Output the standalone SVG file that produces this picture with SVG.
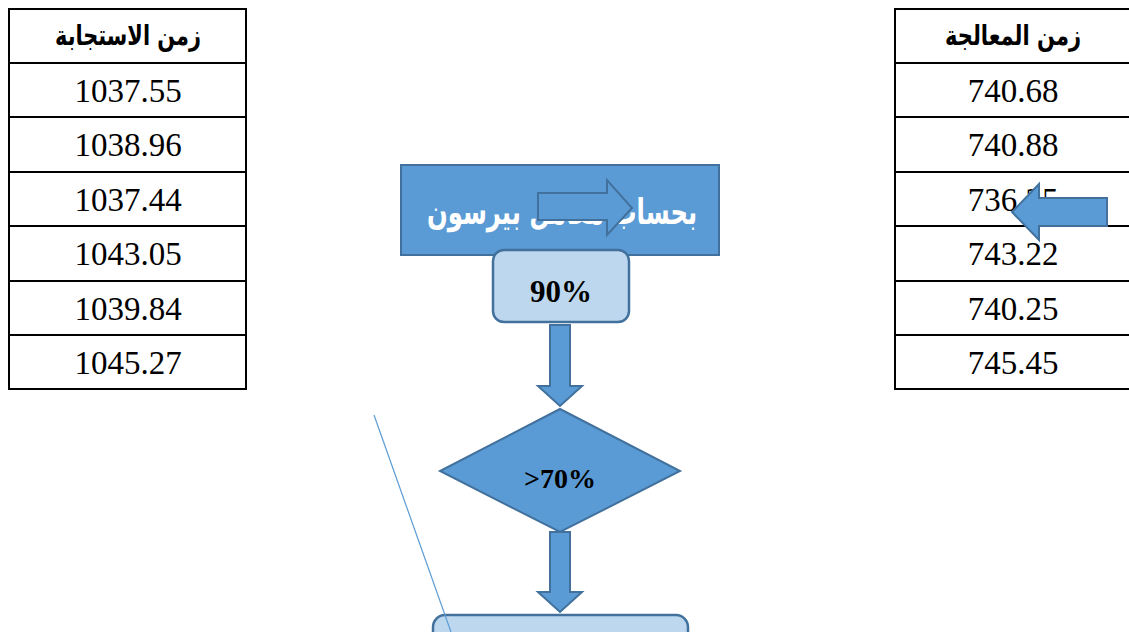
<svg xmlns="http://www.w3.org/2000/svg" width="1129" height="632" viewBox="0 0 1129 632">
<style>
.grid{stroke:#000;stroke-width:2;fill:none}
.num{font-family:"Liberation Serif","Times New Roman",serif;font-size:33px;fill:#000;text-anchor:middle}
.hdr{font-family:"DejaVu Sans","Noto Sans",sans-serif;font-weight:bold;font-size:28px;fill:#000;text-anchor:middle}
.dark{fill:#5B9BD5;stroke:#41719C;stroke-width:2}
.light{fill:#BDD7EE;stroke:#41719C;stroke-width:2.5}
.lbl{font-family:"Liberation Serif","Times New Roman",serif;font-weight:bold;fill:#000;text-anchor:middle}
</style>
<rect width="1129" height="632" fill="#fff"/>
<g id="table-left">
<rect class="grid" x="9" y="9" width="237" height="380"/>
<path class="grid" d="M9 63H246M9 117H246M9 172H246M9 226H246M9 281H246M9 335H246"/>
<text class="hdr" x="128" y="45" textLength="146" lengthAdjust="spacingAndGlyphs">زمن الاستجابة</text>
<text class="num" x="128" y="102">1037.55</text>
<text class="num" x="128" y="156">1038.96</text>
<text class="num" x="128" y="211">1037.44</text>
<text class="num" x="128" y="265">1043.05</text>
<text class="num" x="128" y="320">1039.84</text>
<text class="num" x="128" y="374">1045.27</text>
</g>
<g id="table-right">
<path class="grid" d="M1135 9H895V389H1135"/>
<path class="grid" d="M895 63H1135M895 117H1135M895 172H1135M895 226H1135M895 281H1135M895 335H1135"/>
<text class="hdr" x="1013" y="45" textLength="136" lengthAdjust="spacingAndGlyphs">زمن المعالجة</text>
<text class="num" x="1013" y="102">740.68</text>
<text class="num" x="1013" y="156">740.88</text>
<text class="num" x="1013" y="211">736.25</text>
<text class="num" x="1013" y="265">743.22</text>
<text class="num" x="1013" y="320">740.25</text>
<text class="num" x="1013" y="374">745.45</text>
</g>
<g id="pearson-box">
<rect class="dark" x="401" y="165" width="318" height="90"/>
<text x="562" y="224" style="font-family:'DejaVu Sans','Noto Sans',sans-serif;font-weight:bold;font-size:35px;fill:#fff;text-anchor:middle" textLength="270" lengthAdjust="spacingAndGlyphs">بحساب معامل بيرسون</text>
</g>
<g id="arrow-inner">
<path class="dark" d="M538 193H607V180L632 208L607 235V220H538Z"/>
</g>
<g id="arrow-right">
<path class="dark" d="M1107 198H1039V184L1012 212L1039 240V226H1107Z"/>
</g>
<g id="box-90">
<rect class="light" x="493" y="250" width="136" height="72" rx="11"/>
<text class="lbl" x="561" y="302" style="font-size:31px">90%</text>
</g>
<g id="decision">
<path class="dark" d="M560 409L680 471L560 532L440 471Z"/>
<text class="lbl" x="560" y="488" style="font-size:28px">&gt;70%</text>
</g>
<g id="box-bottom">
<rect class="light" x="433" y="615" width="255" height="60" rx="12"/>
</g>
<g id="connectors">
<path class="dark" d="M550 325H570V386H582L560 406L538 386H550Z"/>
<path class="dark" d="M550 532H570V592H582L560 612L538 592H550Z"/>
<line x1="374" y1="415" x2="451" y2="632" stroke="#5B9BD5" stroke-width="1.2"/>
</g>
</svg>
